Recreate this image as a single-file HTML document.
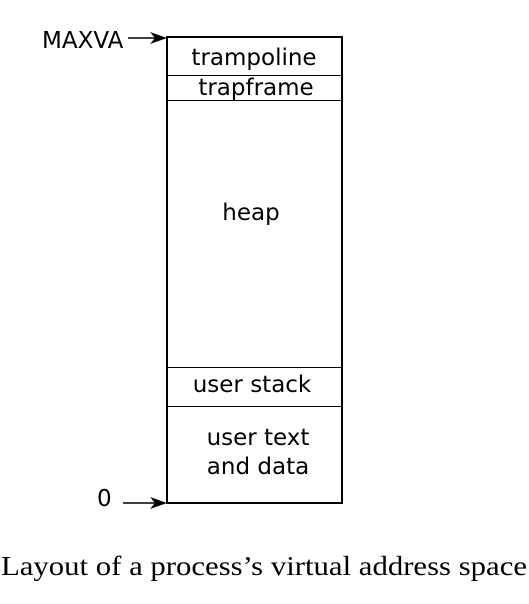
<!DOCTYPE html>
<html><head><meta charset="utf-8"><style>
html,body{margin:0;padding:0;background:#fff;width:529px;height:604px;overflow:hidden}
svg{display:block}
.s{font-family:"DejaVu Sans",sans-serif;font-size:23px;fill:#000}
</style></head><body>
<svg width="529" height="604" viewBox="0 0 529 604">
<rect x="167" y="37" width="175" height="466" fill="none" stroke="#000" stroke-width="2"/>
<g stroke="#000" stroke-width="1">
<line x1="167" y1="75.5" x2="342" y2="75.5"/>
<line x1="167" y1="100.5" x2="342" y2="100.5"/>
<line x1="167" y1="367.5" x2="342" y2="367.5"/>
<line x1="167" y1="406.5" x2="342" y2="406.5"/>
</g>
<text class="s" x="254" y="65" text-anchor="middle">trampoline</text>
<text class="s" x="256" y="95" text-anchor="middle">trapframe</text>
<text class="s" x="251" y="220" text-anchor="middle">heap</text>
<text class="s" x="252" y="392" text-anchor="middle">user stack</text>
<text class="s" x="258" y="445" text-anchor="middle">user text</text>
<text class="s" x="258" y="474" text-anchor="middle">and data</text>
<text class="s" x="42" y="48">MAXVA</text>
<g>
<line x1="128" y1="38" x2="155" y2="38" stroke="#000" stroke-width="1.5"/>
<polygon points="167,38 150,32 155,38 150,44" fill="#000"/>
</g>
<text class="s" x="97" y="506">0</text>
<g>
<line x1="123" y1="503" x2="155" y2="503" stroke="#000" stroke-width="1.5"/>
<polygon points="167,503 150,497 155,503 150,509" fill="#000"/>
</g>
<text x="264" y="575" text-anchor="middle" font-family="'Liberation Serif',serif" font-size="27" textLength="526" lengthAdjust="spacingAndGlyphs">Layout of a process’s virtual address space</text>
</svg>
</body></html>
